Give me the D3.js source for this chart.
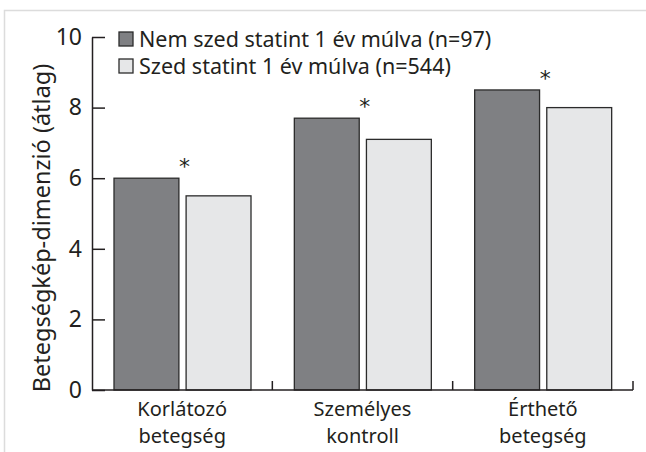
<!DOCTYPE html>
<html><head><meta charset="utf-8">
<script src="https://cdn.jsdelivr.net/npm/d3@7"></script>
<style>
body{margin:0;background:#fff;}
svg{display:block;font-family:"Noto Sans",sans-serif;}
</style></head>
<body><svg id="c" width="646" height="452"></svg>
<script>
const categories = [["Korlátozó","betegség"],["Személyes","kontroll"],["Érthető","betegség"]];
const categoryKeys = ["Korlátozó betegség","Személyes kontroll","Érthető betegség"];
const seriesNames = ["Nem szed statint 1 év múlva (n=97)","Szed statint 1 év múlva (n=544)"];
const noStatin = [6.0, 7.7, 8.5];
const statin = [5.5, 7.1, 8.0];
const significant = [true, true, true];
const yTicks = [0,2,4,6,8,10];
const yLabel = "Betegségkép-dimenzió (átlag)";
const colors = ["#7f8083","#e6e7e8"];
const FONT = "'Noto Sans',sans-serif";

const svg = d3.select("#c");
svg.append("path").attr("d","M4.5,452 V10.5 H646").attr("fill","none").attr("stroke","#dcdcdc").attr("stroke-width",1.5);

const y = d3.scaleLinear().domain([0,10]).range([390,37]);
const x0 = d3.scaleBand().domain(categoryKeys).range([92,633]).padding(0);
const x1 = d3.scaleBand().domain([0,1]).range([22,159]).paddingInner(0.1);

const data = categoryKeys.map((k,i)=>({k, vals:[noStatin[i], statin[i]], sig:significant[i], lines:categories[i]}));

const g = svg.append("g");
const grp = g.selectAll("g.grp").data(data).join("g").attr("transform",d=>`translate(${x0(d.k)},0)`);
grp.selectAll("rect").data(d=>d.vals.map((v,j)=>({v,j}))).join("rect")
  .attr("x",d=>x1(d.j)).attr("width",x1.bandwidth())
  .attr("y",d=>y(d.v)).attr("height",d=>y(0)-y(d.v))
  .attr("fill",d=>colors[d.j]).attr("stroke","#2b2b2b").attr("stroke-width",1.3);
grp.filter(d=>d.sig).append("text")
  .attr("x",(x1(0)+x1.bandwidth()+x1(1))/2+2)
  .attr("y",d=>y(d.vals[0])-4)
  .attr("text-anchor","middle").attr("font-size",22).attr("font-family","'DejaVu Sans',sans-serif").attr("fill","#231f20").text("*");

const yAxis = d3.axisLeft(y).tickValues(yTicks).tickSizeInner(-13).tickSizeOuter(0).tickPadding(10).tickFormat(d3.format("d"));
const ya = svg.append("g").attr("transform","translate(92,0)").call(yAxis);
ya.select(".domain").attr("stroke","#231f20").attr("stroke-width",1.5);
ya.selectAll(".tick line").attr("stroke","#231f20").attr("stroke-width",1.5);
ya.selectAll(".tick text").attr("font-size",23).attr("fill","#231f20").attr("font-family",FONT);

const xa = svg.append("g");
xa.append("line").attr("x1",92).attr("x2",633).attr("y1",390).attr("y2",390).attr("stroke","#231f20").attr("stroke-width",1.5);
xa.selectAll("line.t").data(categoryKeys).join("line").attr("class","t")
  .attr("x1",d=>x0(d)+x0.bandwidth()).attr("x2",d=>x0(d)+x0.bandwidth())
  .attr("y1",390).attr("y2",381).attr("stroke","#231f20").attr("stroke-width",1.5);
const xl = xa.selectAll("text").data(data).join("text")
  .attr("x",d=>x0(d.k)+x0.bandwidth()/2).attr("y",416)
  .attr("text-anchor","middle").attr("font-size",20).attr("fill","#231f20");
xl.selectAll("tspan").data(d=>d.lines).join("tspan")
  .attr("x",function(){return this.parentNode.getAttribute("x");})
  .attr("dy",(d,i)=>i?27.4:0).text(d=>d);

svg.append("text").attr("transform","translate(50,228) rotate(-90)")
  .attr("text-anchor","middle").attr("font-size",23.5).attr("fill","#231f20").text(yLabel);

const leg = svg.append("g");
seriesNames.forEach((s,i)=>{
  leg.append("rect").attr("x",119).attr("y",32+i*27).attr("width",14).attr("height",14)
    .attr("fill",colors[i]).attr("stroke","#2b2b2b").attr("stroke-width",1.3);
  leg.append("text").attr("x",139).attr("y",47+i*27).attr("font-size",21.5).attr("fill","#231f20").text(s);
});
</script></body></html>
